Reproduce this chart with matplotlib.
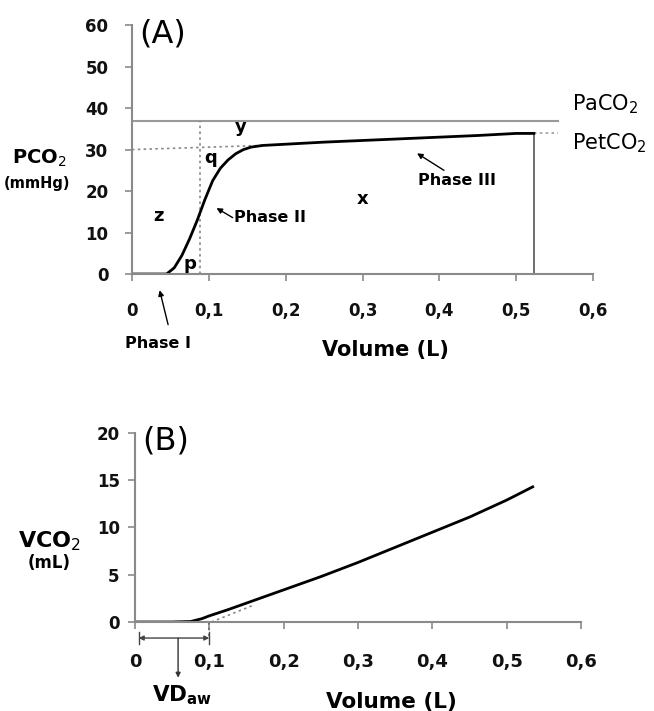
import matplotlib
matplotlib.use("Agg")
import matplotlib.pyplot as plt

# (A) capnogram: PCO2 vs expired volume
vol_a = [0, 0.02, 0.045, 0.055, 0.065, 0.075, 0.085, 0.095, 0.105, 0.115, 0.125,
         0.135, 0.145, 0.155, 0.17, 0.2, 0.25, 0.3, 0.35, 0.4, 0.45, 0.5, 0.523]
pco2 = [0, 0, 0, 1.5, 4.5, 8.5, 13, 18, 22.5, 25.5, 27.5,
        29, 30, 30.6, 31, 31.3, 31.8, 32.2, 32.6, 33.0, 33.4, 33.9, 33.9]
paco2 = 37
petco2 = 34
vd_a = 0.088
vt = 0.523

# (B) cumulative VCO2 vs expired volume
vol_b = [0, 0.05, 0.075, 0.09, 0.1, 0.125, 0.15, 0.2, 0.25, 0.3, 0.35, 0.4, 0.45, 0.5, 0.535]
vco2 = [0, 0, 0.05, 0.35, 0.65, 1.3, 2.0, 3.4, 4.8, 6.3, 7.9, 9.5, 11.1, 12.9, 14.3]
vd_aw = 0.1

xticks = [0, 0.1, 0.2, 0.3, 0.4, 0.5, 0.6]
xticklabels = ["0", "0,1", "0,2", "0,3", "0,4", "0,5", "0,6"]

axis_gray = "#8a8a8a"
fig = plt.figure(figsize=(6.54, 7.11), dpi=100)
arrow_kw = dict(arrowstyle="-|>", color="black", lw=1, shrinkA=0, shrinkB=0, mutation_scale=8)


def style_axes(ax, fs):
    for s in ["top", "right"]:
        ax.spines[s].set_visible(False)
    for s in ["left", "bottom"]:
        ax.spines[s].set_color(axis_gray)
        ax.spines[s].set_linewidth(1.5)
    ax.tick_params(colors=axis_gray, width=1.2, length=5, labelcolor="#111")
    ax.set_xticks(xticks)
    ax.set_xticklabels(xticklabels, fontsize=fs, fontweight="bold")
    for lbl in ax.get_yticklabels():
        lbl.set_fontsize(12)
        lbl.set_fontweight("bold")


# ---------- panel A ----------
ax1 = fig.add_axes([0.2018, 0.6146, 0.705, 0.350])
ax1.set_xlim(0, 0.6)
ax1.set_ylim(0, 60)
ax1.set_yticks([0, 10, 20, 30, 40, 50, 60])
style_axes(ax1, 12)
ax1.tick_params(axis="x", pad=15)
ax1.tick_params(axis="y", pad=12)

ax1.plot([0, 0.555], [paco2, paco2], color="#999", lw=1.5)
ax1.plot([0, 0.17], [30, 31], color="#888", lw=1.2, ls=(0, (1.5, 2)))
ax1.plot([vt, 0.555], [petco2, petco2], color="#999", lw=1.2, ls=(0, (1.5, 2)))
ax1.plot([vd_a, vd_a], [0, paco2], color="#888", lw=1.2, ls=(0, (1.5, 2)))
ax1.plot([vt, vt], [0, petco2], color="#555", lw=1.2)
ax1.plot(vol_a, pco2, color="black", lw=2)

ax1.text(0.01, 61.5, "(A)", fontsize=23, va="top", ha="left")
for t, x, y in [("y", 0.142, 35.5), ("q", 0.102, 28), ("z", 0.034, 14), ("p", 0.075, 2.5), ("x", 0.3, 18)]:
    ax1.text(x, y, t, fontsize=13, fontweight="bold", ha="center", va="center")

ax1.annotate("", xy=(0.110, 15.9), xytext=(0.131, 13.6), arrowprops=arrow_kw)
ax1.text(0.133, 13.7, "Phase II", fontsize=11.5, fontweight="bold", ha="left", va="center")
ax1.annotate("", xy=(0.371, 29.1), xytext=(0.406, 25), arrowprops=arrow_kw)
ax1.text(0.423, 22.6, "Phase III", fontsize=11.5, fontweight="bold", ha="center", va="center")
ax1.annotate("", xy=(0.036, -3.9), xytext=(0.047, -12.2), arrowprops=arrow_kw, annotation_clip=False)
ax1.text(0.034, -16.8, "Phase I", fontsize=11.5, fontweight="bold", ha="center", va="center", clip_on=False)

ax1.text(0.572, 41, "PaCO$_2$", fontsize=15, ha="left", va="center", clip_on=False)
ax1.text(0.572, 31.5, "PetCO$_2$", fontsize=15, ha="left", va="center", clip_on=False)
ax1.text(-0.12, 27.8, "PCO$_2$", fontsize=14, fontweight="bold", ha="center", va="center")
ax1.text(-0.123, 21.8, "(mmHg)", fontsize=10.5, fontweight="bold", ha="center", va="center")
ax1.set_xlabel("Volume (L)", fontsize=15, fontweight="bold")
ax1.xaxis.set_label_coords(0.55, -0.265)

# ---------- panel B ----------
ax2 = fig.add_axes([0.2064, 0.1252, 0.682, 0.2658])
ax2.set_xlim(0, 0.6)
ax2.set_ylim(0, 20)
ax2.set_yticks([0, 5, 10, 15, 20])
style_axes(ax2, 13)
ax2.tick_params(axis="x", pad=17)
ax2.tick_params(axis="y", pad=6)

ax2.plot([0.103, 0.16], [0, 1.8], color="#888", lw=1.2, ls=(0, (1.5, 2)))
ax2.plot([vd_aw, vd_aw], [0, -1.7], color="#666", lw=1.2, ls=(0, (1.5, 2)), clip_on=False)
ax2.plot(vol_b, vco2, color="black", lw=2)

ax2.annotate("", xy=(0.005, -1.7), xytext=(vd_aw, -1.7), annotation_clip=False,
             arrowprops=dict(arrowstyle="<|-|>", color="#444", lw=1, shrinkA=0, shrinkB=0, mutation_scale=7))
ax2.plot([0.005, 0.005], [-1.1, -2.3], color="#444", lw=1, clip_on=False)
ax2.plot([vd_aw, vd_aw], [-1.1, -2.3], color="#444", lw=1, clip_on=False)
ax2.annotate("", xy=(0.058, -5.9), xytext=(0.058, -1.7), annotation_clip=False,
             arrowprops=dict(arrowstyle="-|>", color="#333", lw=1, shrinkA=0, shrinkB=0, mutation_scale=7))
ax2.text(0.063, -7.7, "VD$_{\\mathbf{aw}}$", fontsize=15.5, fontweight="bold", ha="center", va="center", clip_on=False)

ax2.text(0.01, 20.8, "(B)", fontsize=23, va="top", ha="left")
ax2.text(-0.115, 8.6, "VCO$_2$", fontsize=16, fontweight="bold", ha="center", va="center")
ax2.text(-0.115, 6.2, "(mL)", fontsize=12, fontweight="bold", ha="center", va="center")
ax2.set_xlabel("Volume (L)", fontsize=15.5, fontweight="bold")
ax2.xaxis.set_label_coords(0.575, -0.37)

fig.savefig("out.png", dpi=100, facecolor="white")
